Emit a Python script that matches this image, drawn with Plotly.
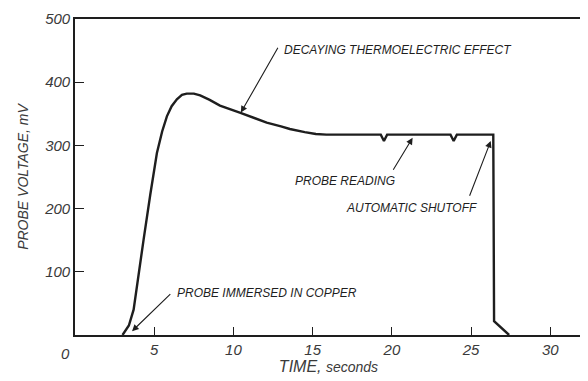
import plotly.graph_objects as go

# Data
time_s = [3.0, 3.4, 3.7, 4.0, 4.33, 4.75, 5.17, 5.5, 5.8, 6.1, 6.43, 6.75, 7.05, 7.5,
          7.9, 8.5, 9.15, 10.4, 11.2, 12.1, 13.0, 13.56, 14.5, 15.2, 15.86, 17.0,
          19.3, 19.5, 19.7, 23.7, 23.9, 24.1, 26.4, 26.45, 27.4]
voltage_mv = [0, 15, 40, 95, 151, 222, 288, 322, 346, 362, 373, 380, 382, 382,
              379, 372, 363, 352, 344, 336, 330, 326, 321, 318, 317, 317,
              317, 307, 317, 317, 307, 317, 317, 22, 0]

x_tick_vals = [5, 10, 15, 20, 25, 30]
y_tick_vals = [100, 200, 300, 400, 500]

ink = "#1e1e1e"
label_grey = "#3a3a3a"
font_family = "Liberation Sans, Arial, sans-serif"

fig = go.Figure()
fig.add_trace(go.Scatter(x=time_s, y=voltage_mv, mode="lines",
                         line=dict(color=ink, width=2.4), hoverinfo="skip",
                         showlegend=False))

# annotation (text, text_x, text_y, tail_x, tail_y, head_x, head_y)
notes = [
    ("DECAYING THERMOELECTRIC EFFECT", 13.05, 451, 12.86, 457, 10.47, 352),
    ("PROBE READING", 13.75, 243, 20.03, 259, 21.31, 312),
    ("AUTOMATIC SHUTOFF", 17.0, 201, 24.87, 218, 26.24, 307),
    ("PROBE IMMERSED IN COPPER", 6.3, 67, 6.11, 67, 3.6, 6),
]
for text, tx, ty, ax_, ay_, hx, hy in notes:
    fig.add_annotation(x=hx, y=hy, ax=ax_, ay=ay_, xref="x", yref="y",
                       axref="x", ayref="y", text="", showarrow=True,
                       arrowhead=2, arrowsize=1.2, arrowwidth=1.1,
                       arrowcolor=ink)
    fig.add_annotation(x=tx, y=ty, xref="x", yref="y", text=text,
                       showarrow=False, xanchor="left", yanchor="middle",
                       font=dict(family=font_family, size=12, color=ink,
                                 style="italic"))

# the "0" label sits left of the axis corner
fig.add_annotation(x=-0.019, y=0, xref="paper", yref="paper", text="0",
                   showarrow=False, xanchor="center", yanchor="top", yshift=-8,
                   font=dict(family=font_family, size=15, color=label_grey,
                             style="italic"))

fig.update_xaxes(range=[0, 32], tickvals=x_tick_vals,
                 ticktext=[str(v) for v in x_tick_vals],
                 ticks="inside", ticklen=8, tickwidth=1.2, tickcolor=ink,
                 showline=True, linecolor=ink, linewidth=1.6, mirror=True,
                 showgrid=False, zeroline=False, automargin=False,
                 tickfont=dict(family=font_family, size=15, color=label_grey,
                               style="italic"),
                 title=dict(text="TIME, <span style='font-size:14px'>seconds</span>",
                            font=dict(family=font_family, size=16, color=label_grey,
                                      style="italic"), standoff=4))
fig.update_yaxes(range=[0, 500], tickvals=y_tick_vals,
                 ticktext=[str(v) for v in y_tick_vals],
                 ticks="inside", ticklen=9, tickwidth=1.2, tickcolor=ink,
                 showline=True, linecolor=ink, linewidth=1.6, mirror=True,
                 showgrid=False, zeroline=False, automargin=False,
                 tickfont=dict(family=font_family, size=15, color=label_grey,
                               style="italic"),
                 title=dict(text="PROBE VOLTAGE, mV",
                            font=dict(family=font_family, size=14, color=label_grey,
                                      style="italic"), standoff=12))

# the page adds an 8px body margin, so the figure is sized to fit the window
fig.update_layout(width=580, height=373, margin=dict(l=67, r=6, t=11, b=46),
                  paper_bgcolor="white", plot_bgcolor="white")

fig.write_html("out.html")
